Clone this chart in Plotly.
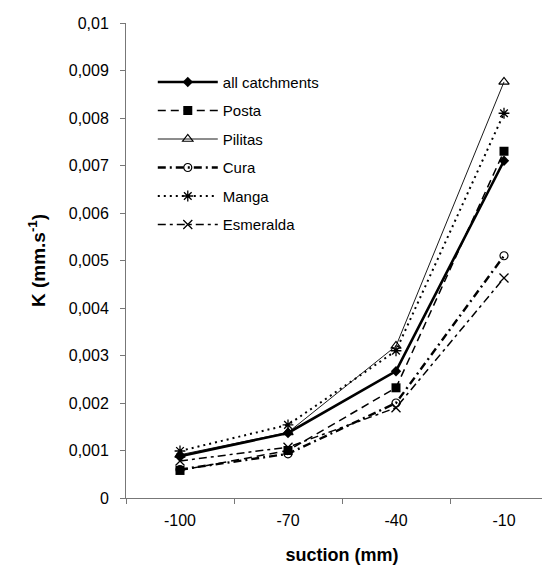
import plotly.graph_objects as go

suction = ["-100", "-70", "-40", "-10"]

all_catchments = [0.00088, 0.00137, 0.00267, 0.0071]
posta = [0.00058, 0.00100, 0.00232, 0.0073]
pilitas = [0.00091, 0.00138, 0.00320, 0.00876]
cura = [0.00060, 0.00093, 0.00200, 0.00510]
manga = [0.00099, 0.00154, 0.00310, 0.00810]
esmeralda = [0.00078, 0.00107, 0.00190, 0.00463]

ytick_vals = [0, 0.001, 0.002, 0.003, 0.004, 0.005, 0.006, 0.007, 0.008, 0.009, 0.01]
ytick_text = ["0", "0,001", "0,002", "0,003", "0,004", "0,005", "0,006", "0,007", "0,008", "0,009", "0,01"]

FONT = "Liberation Sans, Arial, sans-serif"

series = [
    ("all catchments", all_catchments, dict(width=2.6, dash="solid"), dict(symbol="diamond", size=8, color="black")),
    ("Posta", posta, dict(width=1.5, dash="8px,5px"), dict(symbol="square", size=9, color="black")),
    ("Pilitas", pilitas, dict(width=0.9, dash="solid"), dict(symbol="triangle-up-open", size=9, color="black", line=dict(width=1.2, color="black"))),
    ("Cura", cura, dict(width=2.4, dash="8px,4px,2px,4px"), dict(symbol="circle-open", size=8, color="black", line=dict(width=1.2, color="black"))),
    ("Manga", manga, dict(width=2.0, dash="2px,4px"), dict(symbol="asterisk-open", size=9, color="black", line=dict(width=1.3, color="black"))),
    ("Esmeralda", esmeralda, dict(width=1.5, dash="8px,4px,3px,4px"), dict(symbol="x-thin-open", size=9, color="black", line=dict(width=1.3, color="black"))),
]

fig = go.Figure()
for i, (name, vals, ln, mk) in enumerate(series):
    fig.add_trace(go.Scatter(
        x=suction, y=vals, name=name, mode="lines+markers",
        line=dict(color="black", **ln), marker=mk,
        legendgroup="g%d" % i,
    ))

fig.update_layout(
    width=550, height=568,
    margin=dict(l=118, r=0, t=15, b=78),
    paper_bgcolor="white", plot_bgcolor="white",
    font=dict(family=FONT, color="black", size=15),
    showlegend=True,
    legend=dict(
        x=0.062, y=0.91, xanchor="left", yanchor="top",
        bgcolor="rgba(0,0,0,0)", borderwidth=0,
        font=dict(family=FONT, size=15, color="black"),
        traceorder="grouped", tracegroupgap=6, itemwidth=60,
    ),
    xaxis=dict(
        type="category", range=[-0.5, 3.5],
        showline=True, linecolor="#777777", linewidth=1,
        ticks="outside", tickson="boundaries", ticklen=5, tickcolor="#777777",
        showgrid=False, zeroline=False,
        ticklabelstandoff=8,
        tickfont=dict(family=FONT, size=16),
        title=dict(text="<b>suction (mm)</b>", font=dict(family=FONT, size=18), standoff=20),
    ),
    yaxis=dict(
        range=[0, 0.01],
        tickvals=ytick_vals, ticktext=ytick_text,
        showline=True, linecolor="#777777", linewidth=1,
        ticks="outside", ticklen=5, tickcolor="#777777",
        showgrid=False, zeroline=False,
        ticklabelstandoff=8,
        tickfont=dict(family=FONT, size=16),
        title=dict(text="<b>K (mm.s<sup>-1</sup>)</b>", font=dict(family=FONT, size=19), standoff=18),
    ),
)

fig.write_html("out.html")
